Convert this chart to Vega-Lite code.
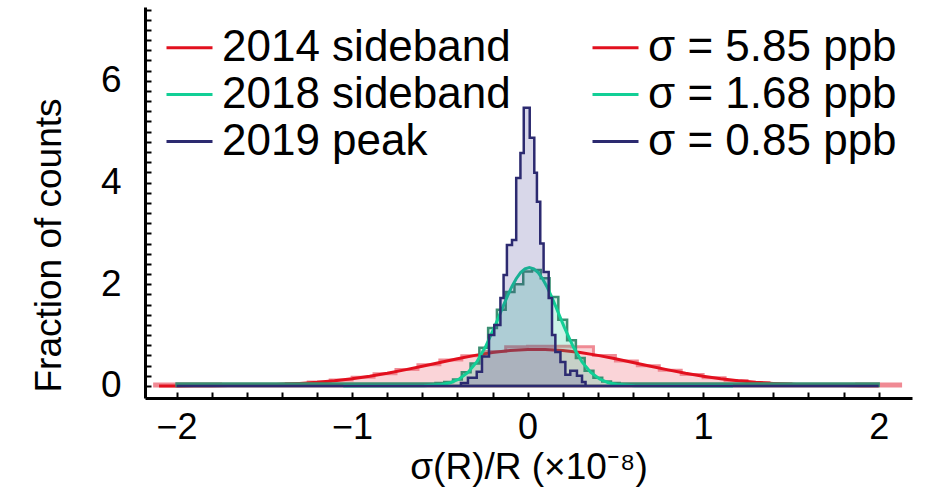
{
  "$schema": "https://vega.github.io/schema/vega-lite/v6.json",
  "width": 767,
  "height": 391,
  "autosize": "none",
  "padding": {"left": 145, "top": 7, "right": 14, "bottom": 92},
  "background": "white",
  "config": {"view": {"stroke": null}, "font": "Liberation Sans"},
  "datasets": {
    "hist": [
      {"s": "2014", "x": -2.125, "y": 0.04}, {"s": "2014", "x": -2.0, "y": 0.04}, {"s": "2014", "x": -1.875, "y": 0.04},
      {"s": "2014", "x": -1.75, "y": 0.03}, {"s": "2014", "x": -1.625, "y": 0.03}, {"s": "2014", "x": -1.5, "y": 0.03},
      {"s": "2014", "x": -1.375, "y": 0.048}, {"s": "2014", "x": -1.25, "y": 0.077}, {"s": "2014", "x": -1.125, "y": 0.118},
      {"s": "2014", "x": -1.0, "y": 0.173}, {"s": "2014", "x": -0.875, "y": 0.243}, {"s": "2014", "x": -0.75, "y": 0.325},
      {"s": "2014", "x": -0.625, "y": 0.416}, {"s": "2014", "x": -0.5, "y": 0.509}, {"s": "2014", "x": -0.375, "y": 0.594},
      {"s": "2014", "x": -0.25, "y": 0.68}, {"s": "2014", "x": -0.125, "y": 0.77}, {"s": "2014", "x": 0.0, "y": 0.78},
      {"s": "2014", "x": 0.125, "y": 0.78}, {"s": "2014", "x": 0.25, "y": 0.77}, {"s": "2014", "x": 0.375, "y": 0.6},
      {"s": "2014", "x": 0.5, "y": 0.49}, {"s": "2014", "x": 0.625, "y": 0.398}, {"s": "2014", "x": 0.75, "y": 0.308},
      {"s": "2014", "x": 0.875, "y": 0.228}, {"s": "2014", "x": 1.0, "y": 0.161}, {"s": "2014", "x": 1.125, "y": 0.109},
      {"s": "2014", "x": 1.25, "y": 0.07}, {"s": "2014", "x": 1.375, "y": 0.043}, {"s": "2014", "x": 1.5, "y": 0.03},
      {"s": "2014", "x": 1.625, "y": 0.03}, {"s": "2014", "x": 1.75, "y": 0.03}, {"s": "2014", "x": 1.875, "y": 0.04},
      {"s": "2014", "x": 2.0, "y": 0.04}, {"s": "2014", "x": 2.125, "y": 0.04},

      {"s": "2018", "x": -2.0, "y": 0.05}, {"s": "2018", "x": -0.575, "y": 0.05}, {"s": "2018", "x": -0.525, "y": 0.06},
      {"s": "2018", "x": -0.475, "y": 0.08}, {"s": "2018", "x": -0.425, "y": 0.13}, {"s": "2018", "x": -0.375, "y": 0.27},
      {"s": "2018", "x": -0.325, "y": 0.44}, {"s": "2018", "x": -0.275, "y": 0.75}, {"s": "2018", "x": -0.225, "y": 1.14},
      {"s": "2018", "x": -0.175, "y": 1.5}, {"s": "2018", "x": -0.125, "y": 1.85}, {"s": "2018", "x": -0.075, "y": 2.0},
      {"s": "2018", "x": -0.025, "y": 2.25}, {"s": "2018", "x": 0.025, "y": 2.28}, {"s": "2018", "x": 0.075, "y": 2.12},
      {"s": "2018", "x": 0.125, "y": 1.75}, {"s": "2018", "x": 0.175, "y": 1.3}, {"s": "2018", "x": 0.225, "y": 0.9},
      {"s": "2018", "x": 0.275, "y": 0.55}, {"s": "2018", "x": 0.325, "y": 0.3}, {"s": "2018", "x": 0.375, "y": 0.16},
      {"s": "2018", "x": 0.425, "y": 0.09}, {"s": "2018", "x": 0.475, "y": 0.06}, {"s": "2018", "x": 0.525, "y": 0.05},
      {"s": "2018", "x": 2.0, "y": 0.05},

      {"s": "2019", "x": -2.0, "y": 0}, {"s": "2019", "x": -0.38, "y": 0.06}, {"s": "2019", "x": -0.34, "y": 0.16},
      {"s": "2019", "x": -0.29, "y": 0.28}, {"s": "2019", "x": -0.26, "y": 0.58}, {"s": "2019", "x": -0.22, "y": 1.0},
      {"s": "2019", "x": -0.19, "y": 1.2}, {"s": "2019", "x": -0.155, "y": 1.73}, {"s": "2019", "x": -0.137, "y": 2.18},
      {"s": "2019", "x": -0.118, "y": 2.77}, {"s": "2019", "x": -0.089, "y": 2.87}, {"s": "2019", "x": -0.065, "y": 4.09},
      {"s": "2019", "x": -0.041, "y": 4.58}, {"s": "2019", "x": -0.022, "y": 5.47}, {"s": "2019", "x": 0.012, "y": 4.88},
      {"s": "2019", "x": 0.038, "y": 4.19}, {"s": "2019", "x": 0.053, "y": 3.62}, {"s": "2019", "x": 0.072, "y": 2.8},
      {"s": "2019", "x": 0.091, "y": 2.24}, {"s": "2019", "x": 0.12, "y": 1.73}, {"s": "2019", "x": 0.139, "y": 1.0},
      {"s": "2019", "x": 0.158, "y": 0.67}, {"s": "2019", "x": 0.187, "y": 0.47}, {"s": "2019", "x": 0.215, "y": 0.22},
      {"s": "2019", "x": 0.243, "y": 0.3}, {"s": "2019", "x": 0.281, "y": 0.2}, {"s": "2019", "x": 0.31, "y": 0.08},
      {"s": "2019", "x": 0.33, "y": 0}, {"s": "2019", "x": 2.0, "y": 0}
    ],
    "fit": [
      {"label": "σ = 5.85 ppb", "x": -2.1, "y": 0.001}, {"label": "σ = 5.85 ppb", "x": -2.0, "y": 0.002},
      {"label": "σ = 5.85 ppb", "x": -1.9, "y": 0.003}, {"label": "σ = 5.85 ppb", "x": -1.8, "y": 0.005},
      {"label": "σ = 5.85 ppb", "x": -1.7, "y": 0.008}, {"label": "σ = 5.85 ppb", "x": -1.6, "y": 0.014},
      {"label": "σ = 5.85 ppb", "x": -1.5, "y": 0.022}, {"label": "σ = 5.85 ppb", "x": -1.4, "y": 0.033},
      {"label": "σ = 5.85 ppb", "x": -1.3, "y": 0.05}, {"label": "σ = 5.85 ppb", "x": -1.2, "y": 0.073},
      {"label": "σ = 5.85 ppb", "x": -1.1, "y": 0.104}, {"label": "σ = 5.85 ppb", "x": -1.0, "y": 0.144},
      {"label": "σ = 5.85 ppb", "x": -0.9, "y": 0.193}, {"label": "σ = 5.85 ppb", "x": -0.8, "y": 0.251},
      {"label": "σ = 5.85 ppb", "x": -0.7, "y": 0.317}, {"label": "σ = 5.85 ppb", "x": -0.6, "y": 0.388},
      {"label": "σ = 5.85 ppb", "x": -0.5, "y": 0.463}, {"label": "σ = 5.85 ppb", "x": -0.4, "y": 0.536},
      {"label": "σ = 5.85 ppb", "x": -0.3, "y": 0.602}, {"label": "σ = 5.85 ppb", "x": -0.2, "y": 0.657},
      {"label": "σ = 5.85 ppb", "x": -0.1, "y": 0.697}, {"label": "σ = 5.85 ppb", "x": 0.0, "y": 0.717},
      {"label": "σ = 5.85 ppb", "x": 0.1, "y": 0.717}, {"label": "σ = 5.85 ppb", "x": 0.2, "y": 0.697},
      {"label": "σ = 5.85 ppb", "x": 0.3, "y": 0.657}, {"label": "σ = 5.85 ppb", "x": 0.4, "y": 0.602},
      {"label": "σ = 5.85 ppb", "x": 0.5, "y": 0.536}, {"label": "σ = 5.85 ppb", "x": 0.6, "y": 0.463},
      {"label": "σ = 5.85 ppb", "x": 0.7, "y": 0.388}, {"label": "σ = 5.85 ppb", "x": 0.8, "y": 0.317},
      {"label": "σ = 5.85 ppb", "x": 0.9, "y": 0.251}, {"label": "σ = 5.85 ppb", "x": 1.0, "y": 0.193},
      {"label": "σ = 5.85 ppb", "x": 1.1, "y": 0.144}, {"label": "σ = 5.85 ppb", "x": 1.2, "y": 0.104},
      {"label": "σ = 5.85 ppb", "x": 1.3, "y": 0.073}, {"label": "σ = 5.85 ppb", "x": 1.4, "y": 0.05},
      {"label": "σ = 5.85 ppb", "x": 1.5, "y": 0.033}, {"label": "σ = 5.85 ppb", "x": 1.6, "y": 0.022},
      {"label": "σ = 5.85 ppb", "x": 1.7, "y": 0.014}, {"label": "σ = 5.85 ppb", "x": 1.8, "y": 0.008},
      {"label": "σ = 5.85 ppb", "x": 1.9, "y": 0.005}, {"label": "σ = 5.85 ppb", "x": 2.0, "y": 0.003},

      {"label": "σ = 1.68 ppb", "x": -1.05, "y": 0.0}, {"label": "σ = 1.68 ppb", "x": -0.59, "y": 0.004},
      {"label": "σ = 1.68 ppb", "x": -0.49, "y": 0.028}, {"label": "σ = 1.68 ppb", "x": -0.44, "y": 0.065},
      {"label": "σ = 1.68 ppb", "x": -0.39, "y": 0.137}, {"label": "σ = 1.68 ppb", "x": -0.34, "y": 0.266},
      {"label": "σ = 1.68 ppb", "x": -0.29, "y": 0.473}, {"label": "σ = 1.68 ppb", "x": -0.24, "y": 0.77},
      {"label": "σ = 1.68 ppb", "x": -0.19, "y": 1.147}, {"label": "σ = 1.68 ppb", "x": -0.165, "y": 1.354},
      {"label": "σ = 1.68 ppb", "x": -0.14, "y": 1.564}, {"label": "σ = 1.68 ppb", "x": -0.115, "y": 1.767},
      {"label": "σ = 1.68 ppb", "x": -0.09, "y": 1.952}, {"label": "σ = 1.68 ppb", "x": -0.065, "y": 2.109},
      {"label": "σ = 1.68 ppb", "x": -0.04, "y": 2.229}, {"label": "σ = 1.68 ppb", "x": -0.015, "y": 2.304},
      {"label": "σ = 1.68 ppb", "x": 0.01, "y": 2.33}, {"label": "σ = 1.68 ppb", "x": 0.035, "y": 2.304},
      {"label": "σ = 1.68 ppb", "x": 0.06, "y": 2.229}, {"label": "σ = 1.68 ppb", "x": 0.085, "y": 2.109},
      {"label": "σ = 1.68 ppb", "x": 0.11, "y": 1.952}, {"label": "σ = 1.68 ppb", "x": 0.135, "y": 1.767},
      {"label": "σ = 1.68 ppb", "x": 0.16, "y": 1.564}, {"label": "σ = 1.68 ppb", "x": 0.185, "y": 1.354},
      {"label": "σ = 1.68 ppb", "x": 0.21, "y": 1.147}, {"label": "σ = 1.68 ppb", "x": 0.26, "y": 0.77},
      {"label": "σ = 1.68 ppb", "x": 0.31, "y": 0.473}, {"label": "σ = 1.68 ppb", "x": 0.36, "y": 0.266},
      {"label": "σ = 1.68 ppb", "x": 0.41, "y": 0.137}, {"label": "σ = 1.68 ppb", "x": 0.46, "y": 0.065},
      {"label": "σ = 1.68 ppb", "x": 0.51, "y": 0.028}, {"label": "σ = 1.68 ppb", "x": 0.61, "y": 0.004},
      {"label": "σ = 1.68 ppb", "x": 1.17, "y": 0.0}
    ]
  },
  "encoding": {
    "x": {
      "field": "x", "type": "quantitative",
      "scale": {"domain": [-2.18, 2.19], "nice": false, "zero": false},
      "axis": {
        "values": [-2, -1.8, -1.6, -1.4, -1.2, -1, -0.8, -0.6, -0.4, -0.2, 0, 0.2, 0.4, 0.6, 0.8, 1, 1.2, 1.4, 1.6, 1.8, 2],
        "tickCount": 1000,
        "labelExpr": "abs(datum.value - round(datum.value)) < 0.001 ? replace(format(datum.value, 'd'), '-', '\u2212') : ''",
        "labelOverlap": false, "labelFlush": false, "labelBound": false,
        "tickSize": -6, "tickWidth": 2, "tickColor": "black",
        "labelPadding": 18, "labelFontSize": 36, "labelColor": "black", "labelFont": "Liberation Sans",
        "domainColor": "black", "domainWidth": 3, "grid": false,
        "title": "σ(R)/R (×10⁻⁸)", "titleFontSize": 37, "titleFontWeight": "normal", "titleColor": "black",
        "titleFont": "Liberation Sans", "titleY": 80, "titleBaseline": "alphabetic",
        "encode": {"ticks": {"update": {"y2": {"signal": "abs(datum.value - round(datum.value)) < 0.001 ? -8 : -5"}}}}
      }
    },
    "y": {
      "field": "y", "type": "quantitative",
      "scale": {"domain": [-0.236, 7.45], "nice": false, "zero": false},
      "axis": {
        "values": [0, 0.2, 0.4, 0.6, 0.8, 1, 1.2, 1.4, 1.6, 1.8, 2, 2.2, 2.4, 2.6, 2.8, 3, 3.2, 3.4, 3.6, 3.8, 4, 4.2, 4.4, 4.6, 4.8, 5, 5.2, 5.4, 5.6, 5.8, 6, 6.2, 6.4, 6.6, 6.8, 7, 7.2, 7.4],
        "tickCount": 1000,
        "labelExpr": "abs(datum.value / 2 - round(datum.value / 2)) < 0.001 ? format(datum.value, 'd') : ''",
        "labelOverlap": false, "labelFlush": false, "labelBound": false,
        "tickSize": -6, "tickWidth": 2, "tickColor": "black",
        "labelPadding": 30, "labelFontSize": 37, "labelColor": "black", "labelFont": "Liberation Sans",
        "domainColor": "black", "domainWidth": 3, "grid": false,
        "title": "Fraction of counts", "titleFontSize": 37, "titleFontWeight": "normal", "titleColor": "black",
        "titleFont": "Liberation Sans", "titleX": -85, "titleY": 238, "titleBaseline": "alphabetic", "titleAngle": 270, "titleAlign": "center",
        "encode": {"ticks": {"update": {"x2": {"signal": "abs(datum.value - round(datum.value)) < 0.001 ? 9 : 6"}}}}
      }
    }
  },
  "layer": [
    {
      "data": {"name": "hist"},
      "transform": [{"filter": "datum.s == '2014'"}],
      "mark": {"type": "area", "interpolate": "step-after", "fill": "#e8283c", "fillOpacity": 0.2, "stroke": "#f08a94", "strokeWidth": 3},
      "encoding": {"y2": {"datum": 0}}
    },
    {
      "data": {"name": "fit"},
      "transform": [{"filter": "datum.label == 'σ = 5.85 ppb'"}],
      "mark": {"type": "line", "strokeWidth": 3},
      "encoding": {
        "color": {
          "field": "label", "type": "nominal",
          "scale": {
            "domain": ["2014 sideband", "2018 sideband", "2019 peak", "σ = 5.85 ppb", "σ = 1.68 ppb", "σ = 0.85 ppb"],
            "range": ["#e2101e", "#12cf96", "#2c2a70", "#e2101e", "#12cf96", "#2c2a70"]
          },
          "legend": {
            "orient": "none", "legendX": 20, "legendY": 16, "columns": 2, "columnPadding": 75, "rowPadding": -1,
            "symbolType": "stroke", "symbolSize": 2116, "symbolStrokeWidth": 3, "labelFontSize": 44,
            "labelFont": "Liberation Sans", "labelColor": "black", "labelOffset": 8, "labelLimit": 0, "title": null, "padding": 0
          }
        }
      }
    },
    {
      "data": {"name": "hist"},
      "transform": [{"filter": "datum.s == '2018'"}],
      "mark": {"type": "area", "interpolate": "step-after", "fill": "#10c890", "fillOpacity": 0.22, "stroke": "#3b8f72", "strokeWidth": 2.5},
      "encoding": {"y2": {"datum": 0}}
    },
    {
      "data": {"name": "fit"},
      "transform": [{"filter": "datum.label == 'σ = 1.68 ppb'"}],
      "mark": {"type": "line", "strokeWidth": 3},
      "encoding": {"color": {"field": "label", "type": "nominal"}}
    },
    {
      "data": {"name": "hist"},
      "transform": [{"filter": "datum.s == '2019'"}],
      "mark": {"type": "area", "interpolate": "step-after", "fill": "#3a3890", "fillOpacity": 0.2, "stroke": "#2c2a70", "strokeWidth": 2.5},
      "encoding": {"y2": {"datum": 0}}
    }
  ]
}
